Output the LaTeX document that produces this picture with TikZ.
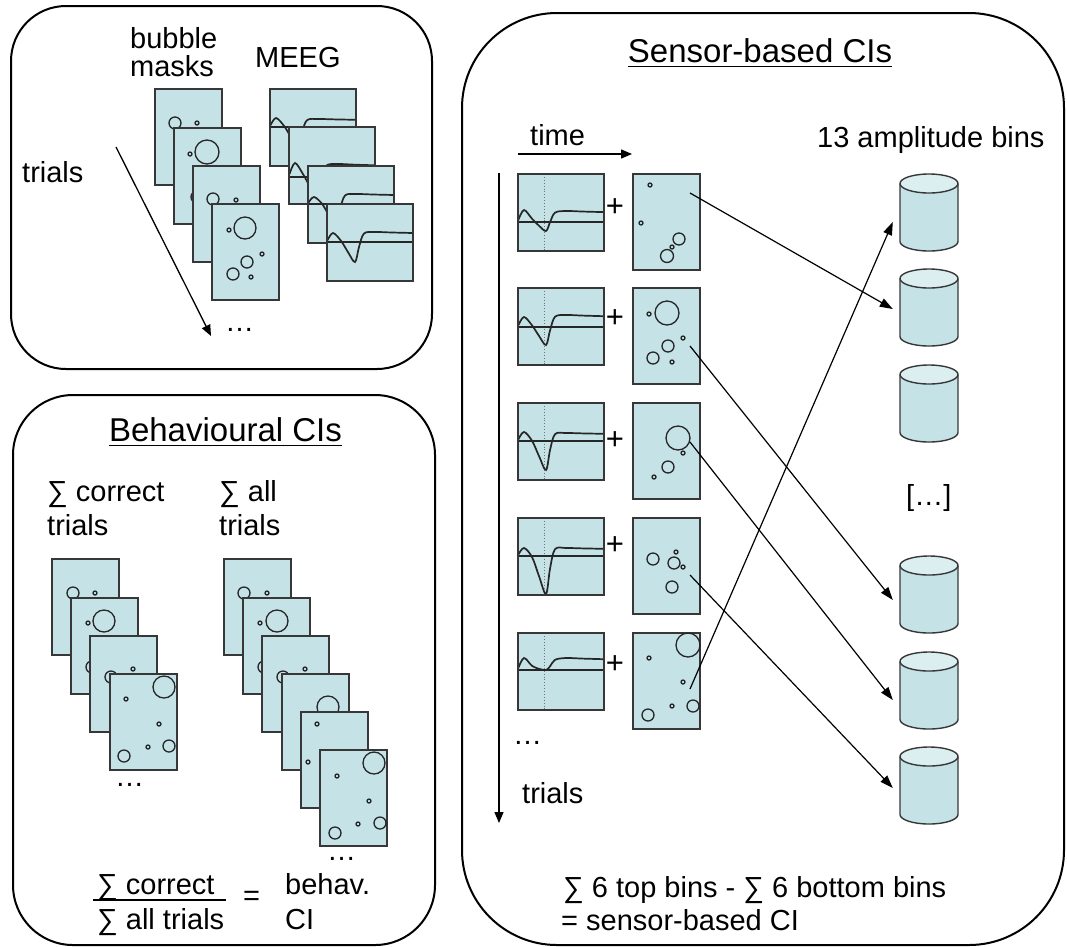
\documentclass[tikz,border=0pt]{standalone}
\usepackage{fontspec}
\setmainfont{Liberation Sans}
\usetikzlibrary{arrows.meta,calc}

\definecolor{sheetfill}{RGB}{197,226,230}
\definecolor{captop}{RGB}{219,239,241}
\definecolor{edge}{RGB}{55,55,55}

\tikzset{
  panel/.style={draw=black, line width=2pt, rounded corners=#1},
  masksheet/.style={draw=edge, fill=sheetfill, line width=1.5pt, minimum width=67pt,
    minimum height=96pt, inner sep=0pt, outer sep=0pt, anchor=north west},
  erpbox/.style={draw=edge, fill=sheetfill, line width=1.5pt, minimum width=86pt,
    minimum height=77pt, inner sep=0pt, outer sep=0pt, anchor=north west},
  bub/.style={draw=black!85, line width=1.3pt},
  trace/.style={draw=black!85, line width=1.7pt},
  cursor/.style={draw=black!55, line width=0.9pt, dotted},
  bintop/.style={draw=edge, fill=captop, line width=1.4pt},
  binside/.style={draw=edge, line width=1.4pt},
  link/.style={draw=black, line width=1.2pt, -{Triangle[length=13pt,width=9pt]}},
  axis/.style={draw=black, line width=1.3pt, -{Triangle[length=11pt,width=9pt]}},
  lbl/.style={inner sep=0pt, anchor=base west, font=\fontsize{29}{33}\selectfont},
  ttl/.style={inner sep=0pt, anchor=base, font=\fontsize{33}{38}\selectfont},
  plus/.style={inner sep=0pt, anchor=base, font=\fontsize{31}{34}\selectfont},
}

% a bubble mask: name, top-left corner, list of circles x/y/r
\newcommand\bubblesheet[4]{%
  \node[masksheet] (#1) at (#2,#3) {};
  \foreach \bubx/\buby/\bubr in {#4} {\draw[bub] (\bubx,\buby) circle[radius=\bubr pt];}
}

% an MEEG trace: name, top-left corner, baseline offset, peak, dip, plateau, cursor style
\newcommand\erpsheet[8]{%
  \node[erpbox] (#1) at (#2,#3) {};
  \draw[#8] (#2+26,#3) -- ++(0,77);
  \begin{scope}
    \clip (#2,#3) rectangle ++(86,77);
    \draw[trace] (#2,#3+#4) -- ++(86,0);
    \draw[trace] plot[smooth,tension=0.55] coordinates {
      ({#2+0.5},{#3+#4-0.2*#5}) ({#2+6},{#3+#4-#5})
      ({#2+14},{#3+#4-0.35*#5+0.1*#6}) ({#2+21},{#3+#4-0.1*#5+0.55*#6})
      ({#2+28},{#3+#4+#6}) ({#2+32},{#3+#4+0.4*#6-0.3*#7})
      ({#2+37},{#3+#4-0.85*#7}) ({#2+48},{#3+#4-#7})
      ({#2+65},{#3+#4-0.95*#7}) ({#2+86},{#3+#4-0.9*#7})};
  \end{scope}
  \draw[draw=edge, line width=1.5pt] (#2,#3) rectangle ++(86,77);
}

% an amplitude bin drawn as a cylinder: name, centre x, top y
\newcommand\ampbin[3]{%
  \fill[sheetfill] (#2-29,#3+9.5) -- (#2-29,#3+67.5)
    arc[start angle=180,end angle=360,x radius=29pt,y radius=9.5pt] -- (#2+29,#3+9.5) -- cycle;
  \draw[binside] (#2-29,#3+9.5) -- (#2-29,#3+67.5)
    arc[start angle=180,end angle=360,x radius=29pt,y radius=9.5pt] -- (#2+29,#3+9.5);
  \draw[bintop] (#2,#3+9.5) ellipse[x radius=29pt,y radius=9.5pt];
  \node[inner sep=0pt, minimum width=58pt, minimum height=77pt] (#1) at (#2,#3+38.5) {};
}

\begin{document}
\begin{tikzpicture}[x=1pt,y=-1pt]
\useasboundingbox (0,0) rectangle (1067,946);

% ---------- panels ----------
\draw[panel=55pt] (11,6) rectangle (432,369);
\draw[panel=60pt] (13,395) rectangle (435,945);
\draw[panel=95pt] (462,13) rectangle (1064,945);

% ---------- trials: masks and MEEG ----------
\node[lbl] (lbub) at (130,48) {bubble};
\node[lbl] (lmask) at (130,76) {masks};
\node[lbl] (lmeeg) at (255,67) {MEEG};
\node[lbl] (ltrials) at (22,182) {trials};

\bubblesheet{ta}{155}{89}{175/123/6, 197/123/2}
\bubblesheet{tb}{174}{128}{207/152/12, 190/154/2, 197/197/6}
\bubblesheet{tc}{193}{166}{213/199/6, 236/200/2}
\bubblesheet{td}{212}{204}{245/228/11, 229/230/2, 247/262/6, 262/254/2, 233/274/6, 251/277/2}

\erpsheet{ea}{270}{89}{38}{9}{20}{8}{draw=none}
\erpsheet{eb}{289}{127}{50}{14}{20}{13}{draw=none}
\erpsheet{ec}{308}{166}{38}{7}{22}{10}{draw=none}
\erpsheet{ed}{327}{204}{38}{9}{20}{10}{draw=none}

\coordinate (ttail) at (116,147);
\coordinate (thead) at (211,336);
\draw[axis] (ttail) -- (thead);
\node[lbl] (tdots) at (225,331) {…};

% ---------- behavioural CIs ----------
\node[ttl] (btitle) at (225.5,441) {Behavioural CIs};
\draw[line width=1.5pt] ([yshift=-4.5pt]btitle.base west) -- ([yshift=-4.5pt]btitle.base east);

\node[lbl] (bc1) at (47,501) {∑ correct};
\node[lbl] (bc2) at (47,535) {trials};
\node[lbl] (ba1) at (219,501) {∑ all};
\node[lbl] (ba2) at (219,535) {trials};

\bubblesheet{ca}{52}{559}{73/593/6, 95/593/2}
\bubblesheet{cb}{71}{598}{104/621/11, 88/623/2, 92/667/6}
\bubblesheet{cc}{90}{636}{111/677/6, 133/669/2}
\bubblesheet{cd}{110}{674}{164/687/11, 126/699/2, 159/724/2, 148/747/2, 169/746/6, 124/756/6}
\node[lbl] (cdots) at (115,786) {…};

\bubblesheet{aa}{224}{559}{244/593/6, 267/593/2}
\bubblesheet{ab}{243}{598}{277/621/11, 260/623/2, 264/667/6}
\bubblesheet{ac}{262}{636}{283/677/6, 305/669/2}
\bubblesheet{ad}{282}{674}{328/707/11}
\bubblesheet{ae}{301}{712}{317/724/2, 308/762/2}
\bubblesheet{af}{320}{750}{374/763/11, 337/776/2, 369/801/2, 358/824/2, 380/823/6, 335/833/6}
\node[lbl] (adots) at (327,860) {…};

\node[lbl] (fnum) at (97,894) {∑ correct};
\node[lbl] (fden) at (97,929) {∑ all trials};
\draw[line width=1.3pt] ([xshift=-4pt,yshift=-6pt]fnum.base west) -- ++(133,0);
\node[lbl] (feq) at (243,905) {=};
\node[lbl] (fb1) at (285,894) {behav.};
\node[lbl] (fb2) at (285,929) {CI};

% ---------- sensor-based CIs ----------
\node[ttl] (stitle) at (760,62) {Sensor-based CIs};
\draw[line width=1.5pt] ([yshift=-4.5pt]stitle.base west) -- ([yshift=-4.5pt]stitle.base east);

\node[lbl] (stime) at (530,145) {time};
\coordinate (time0) at (518,154);
\coordinate (time1) at (632,154);
\draw[axis] (time0) -- (time1);
\node[lbl] (sbins) at (817,147) {13 amplitude bins};

\coordinate (trial0) at (499,173);
\coordinate (trial1) at (499,823);
\draw[axis] (trial0) -- (trial1);
\node[lbl] (sdots) at (513,744) {…};
\node[lbl] (strials) at (522,803) {trials};

\erpsheet{ra}{518}{174}{48}{12}{9}{11}{cursor}
\erpsheet{rb}{518}{288}{39}{10}{18}{12}{cursor}
\erpsheet{rc}{518}{403}{38}{9}{29}{8}{cursor}
\erpsheet{rd}{518}{518}{38}{8}{38}{8}{cursor}
\erpsheet{re}{518}{633}{37}{12}{0}{12}{cursor}

\node[plus] (pa) at (615,216) {+};
\node[plus] (pb) at (615,327) {+};
\node[plus] (pc) at (615,449) {+};
\node[plus] (pd) at (615,554) {+};
\node[plus] (pe) at (615,673) {+};

\bubblesheet{ma}{633}{174}{650/185/2, 641/223/2, 679/239/6, 672/247/2, 667/256/6.5}
\bubblesheet{mb}{633}{288}{667/313/12, 649/314/2, 668/346/6, 683/338/2, 653/358/6, 672/362/2}
\bubblesheet{mc}{633}{403}{678/438/12, 683/453/2, 668/467/6, 654/477/2}
\bubblesheet{md}{633}{518}{653/559/6, 674/563/6, 676/552/2, 683/567/2, 672/587/6}
\bubblesheet{me}{633}{633}{688/645/12, 649/658/2, 683/682/2, 672/706/2, 693/706/6, 648/715/6}

\ampbin{bin1}{929}{174}
\ampbin{bin2}{929}{269}
\ampbin{bin3}{929}{365}
\node[lbl] (bgap) at (906,505) {[…]};
\ampbin{bin4}{929}{556}
\ampbin{bin5}{929}{652}
\ampbin{bin6}{929}{747}

\coordinate (s1) at (690,193);
\coordinate (s2) at (690,346);
\coordinate (s3) at (690,442);
\coordinate (s4) at (690,575);
\coordinate (s5) at (690,689);
\draw[link] (s1) -- ($(bin2.west)+(-7,1.5)$);
\draw[link] (s2) -- ($(bin4.west)+(-7,5.5)$);
\draw[link] (s3) -- ($(bin5.west)+(-7,9.5)$);
\draw[link] (s4) -- ($(bin6.west)+(-7,2.5)$);
\draw[link] (s5) -- ($(bin1.west)+(-7,9.5)$);

\node[lbl] (sum1) at (563,897) {∑ 6 top bins - ∑ 6 bottom bins};
\node[lbl] (sum2) at (561,930) {= sensor-based CI};
\end{tikzpicture}
\end{document}
